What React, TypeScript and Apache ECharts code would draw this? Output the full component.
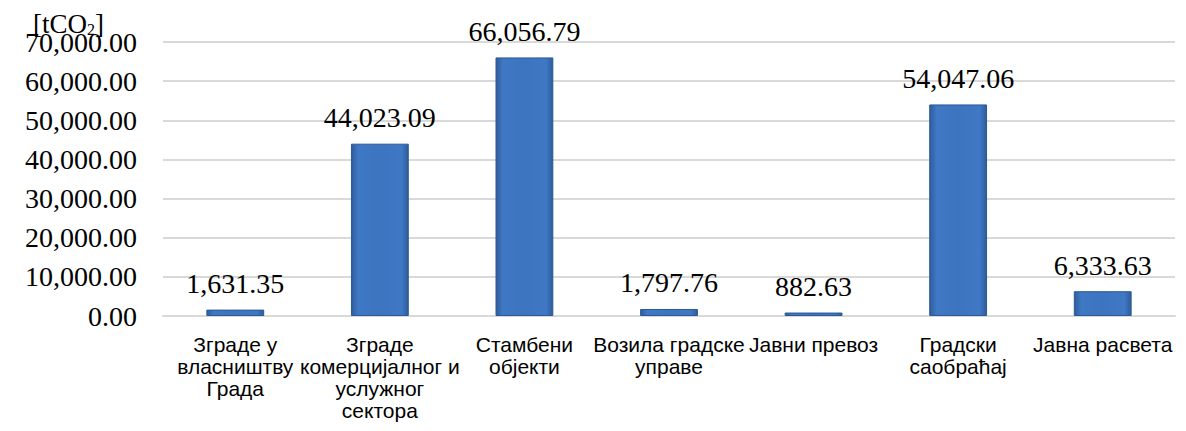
import React, { useEffect, useRef } from "react";
import * as echarts from "echarts";

const categories = [
  "Зграде у\nвласништву\nГрада",
  "Зграде\nкомерцијалног и\nуслужног\nсектора",
  "Стамбени\nобјекти",
  "Возила градске\nуправе",
  "Јавни превоз",
  "Градски\nсаобраћај",
  "Јавна расвета",
];
const values = [1631.35, 44023.09, 66056.79, 1797.76, 882.63, 54047.06, 6333.63];
const yMin = 0;
const yMax = 70000;
const yInterval = 10000;

const fmt = (v: number) =>
  v.toLocaleString("en-US", { minimumFractionDigits: 2, maximumFractionDigits: 2 });

export default function App() {
  const ref = useRef<HTMLDivElement>(null);
  useEffect(() => {
    if (!ref.current) return;
    const chart = echarts.init(ref.current, null, { renderer: "svg" });
    const serif = "'Liberation Serif', 'Times New Roman', serif";
    chart.setOption({
      animation: false,
      backgroundColor: "#ffffff",
      grid: { left: 163, right: 11, top: 42, bottom: 115 },
      graphic: [
        {
          type: "text",
          left: 33,
          top: 10,
          z: 100,
          style: {
            text: "{a|[tCO}{s|2}{a|]}",
            rich: {
              a: { fontFamily: serif, fontSize: 27, fill: "#000" },
              s: { fontFamily: serif, fontSize: 16, fill: "#000", verticalAlign: "bottom", padding: [12, 0, 0, 0] },
            },
          },
        },
      ],
      xAxis: {
        type: "category",
        data: categories,
        axisLine: { show: true, lineStyle: { color: "#D9D9D9", width: 2 } },
        axisTick: { show: false },
        axisLabel: {
          interval: 0,
          color: "#000",
          fontFamily: "'Liberation Sans', Arial, sans-serif",
          fontSize: 21,
          lineHeight: 22,
          margin: 17,
        },
      },
      yAxis: {
        type: "value",
        min: yMin,
        max: yMax,
        interval: yInterval,
        axisLine: { show: false },
        axisTick: { show: false },
        splitLine: { lineStyle: { color: "#D9D9D9", width: 2 } },
        axisLabel: {
          color: "#000",
          fontFamily: serif,
          fontSize: 28,
          margin: 26,
          formatter: (v: number) => fmt(v),
        },
      },
      series: [
        {
          type: "bar",
          data: values,
          barWidth: "40%",
          itemStyle: {
            color: new echarts.graphic.LinearGradient(0, 0, 1, 0, [
              { offset: 0, color: "#2E5C9C" },
              { offset: 0.12, color: "#3F78C4" },
              { offset: 0.5, color: "#3C74C0" },
              { offset: 0.88, color: "#3F78C4" },
              { offset: 1, color: "#2E5C9C" },
            ]),
            borderColor: "#2C5893",
            borderWidth: 1,
          },
          label: {
            show: true,
            position: "top",
            distance: 12,
            color: "#000",
            fontFamily: serif,
            fontSize: 28,
            formatter: (p: any) => fmt(p.value),
          },
        },
      ],
    });
    return () => chart.dispose();
  }, []);
  return (
    <div
      ref={ref}
      style={{ position: "fixed", left: 0, top: 0, width: 1186, height: 431 }}
    />
  );
}
